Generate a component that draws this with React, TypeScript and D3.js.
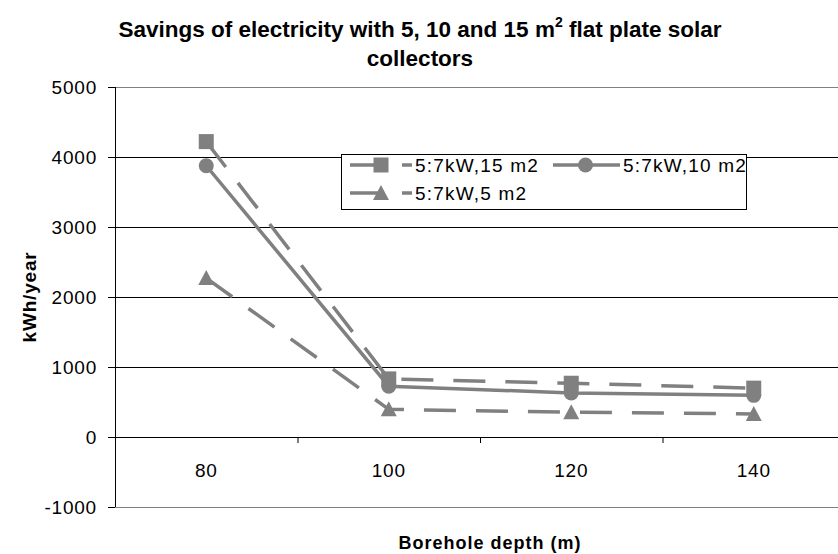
import React from "react";
import * as d3 from "d3";

const categories = ["80", "100", "120", "140"];
const yTicks = [-1000, 0, 1000, 2000, 3000, 4000, 5000];
const series15 = [4220, 830, 768, 698];
const series10 = [3875, 726, 630, 595];
const series5 = [2270, 395, 355, 330];
const seriesNames = ["5:7kW,15 m2", "5:7kW,10 m2", "5:7kW,5 m2"];

const W = 838;
const H = 554;
const GREY = "#808080";
const FONT = "Liberation Sans, Arial, sans-serif";

function Marker({ kind, x, y }: { kind: string; x: number; y: number }) {
  if (kind === "square") return <rect x={x - 7.5} y={y - 7.5} width={15} height={15} fill={GREY} />;
  if (kind === "circle") return <circle cx={x} cy={y} r={7.5} fill={GREY} />;
  return <path d={`M${x},${y - 8}L${x + 8},${y + 7}L${x - 8},${y + 7}Z`} fill={GREY} />;
}

export default function App() {
  const left = 115;
  const band = 182.5;
  const x = d3.scaleBand<string>().domain(categories).range([left, left + band * categories.length]).paddingInner(0).paddingOuter(0);
  const y = d3.scaleLinear().domain([-1000, 5000]).range([507, 87]);
  const cx = (c: string) => (x(c) as number) + x.bandwidth() / 2;

  const line = d3
    .line<number>()
    .x((_, i) => cx(categories[i]))
    .y((d) => y(d));

  const seriesDefs = [
    { data: series15, kind: "square", dash: "32,20", name: seriesNames[0] },
    { data: series10, kind: "circle", dash: undefined, name: seriesNames[1] },
    { data: series5, kind: "triangle", dash: "32,20", name: seriesNames[2] },
  ];

  const legendPos = [
    { x0: 350, x1: 412, y: 165 },
    { x0: 553, x1: 620, y: 165 },
    { x0: 350, x1: 412, y: 193 },
  ];

  return (
    <svg width={W} height={H} style={{ position: "absolute", left: 0, top: 0, background: "#fff" }} fontFamily={FONT}>
      <rect x={0} y={0} width={W} height={H} fill="#fff" />
      {/* title */}
      <text x={420} y={37} textAnchor="middle" fontSize={22.5} fontWeight="bold" fill="#000">
        Savings of electricity with 5, 10 and 15 m
        <tspan fontSize={14} dy={-10}>2</tspan>
        <tspan dy={10}> flat plate solar</tspan>
      </text>
      <text x={420} y={66} textAnchor="middle" fontSize={22.5} fontWeight="bold" fill="#000">
        collectors
      </text>

      {/* gridlines */}
      {yTicks.map((t) => (
        <line
          key={t}
          x1={left}
          x2={W}
          y1={Math.round(y(t)) + 0.5}
          y2={Math.round(y(t)) + 0.5}
          stroke={t === 5000 || t === -1000 ? GREY : "#000"}
          strokeWidth={1}
        />
      ))}
      {/* y axis */}
      <line x1={left + 0.5} x2={left + 0.5} y1={y(5000)} y2={y(-1000)} stroke="#000" />
      {yTicks.map((t) => (
        <g key={"t" + t}>
          <line x1={left - 7} x2={left} y1={Math.round(y(t)) + 0.5} y2={Math.round(y(t)) + 0.5} stroke="#000" />
          <text x={97} y={y(t) + 7} textAnchor="end" fontSize={19} letterSpacing={0.8} fill="#000">
            {t}
          </text>
        </g>
      ))}
      {/* x axis ticks */}
      {categories.slice(1).map((c) => (
        <line key={"xt" + c} x1={(x(c) as number) + 0.5} x2={(x(c) as number) + 0.5} y1={y(0)} y2={y(0) + 6} stroke="#000" />
      ))}
      {categories.map((c) => (
        <text key={"xl" + c} x={cx(c)} y={477} textAnchor="middle" fontSize={19} letterSpacing={0.8} fill="#000">
          {c}
        </text>
      ))}

      {/* axis titles */}
      <text
        transform={`translate(36,297) rotate(-90)`}
        textAnchor="middle"
        fontSize={19}
        fontWeight="bold"
        letterSpacing={0.8}
        fill="#000"
      >
        kWh/year
      </text>
      <text x={490} y={549} textAnchor="middle" fontSize={18} fontWeight="bold" letterSpacing={1} fill="#000">
        Borehole depth (m)
      </text>

      {/* series */}
      {seriesDefs.map((s, si) => (
        <g key={"s" + si}>
          <path d={line(s.data) || ""} fill="none" stroke={GREY} strokeWidth={3.5} strokeDasharray={s.dash} />
          {s.data.map((v, i) => (
            <Marker key={i} kind={s.kind} x={cx(categories[i])} y={y(v)} />
          ))}
        </g>
      ))}

      {/* legend */}
      <rect x={341.5} y={154.5} width={405} height={55} fill="#fff" stroke="#000" strokeWidth={1} />
      {seriesDefs.map((s, i) => {
        const p = legendPos[i];
        return (
          <g key={"lg" + i}>
            <line x1={p.x0} x2={p.x1} y1={p.y} y2={p.y} stroke={GREY} strokeWidth={3.5} strokeDasharray={s.dash} />
            <Marker kind={s.kind} x={(p.x0 + p.x1) / 2 + (s.kind === "circle" ? -1 : 0)} y={p.y} />
            <text x={p.x1 + 3} y={p.y + 7} fontSize={19} letterSpacing={1.2} fill="#000">
              {s.name}
            </text>
          </g>
        );
      })}
    </svg>
  );
}
